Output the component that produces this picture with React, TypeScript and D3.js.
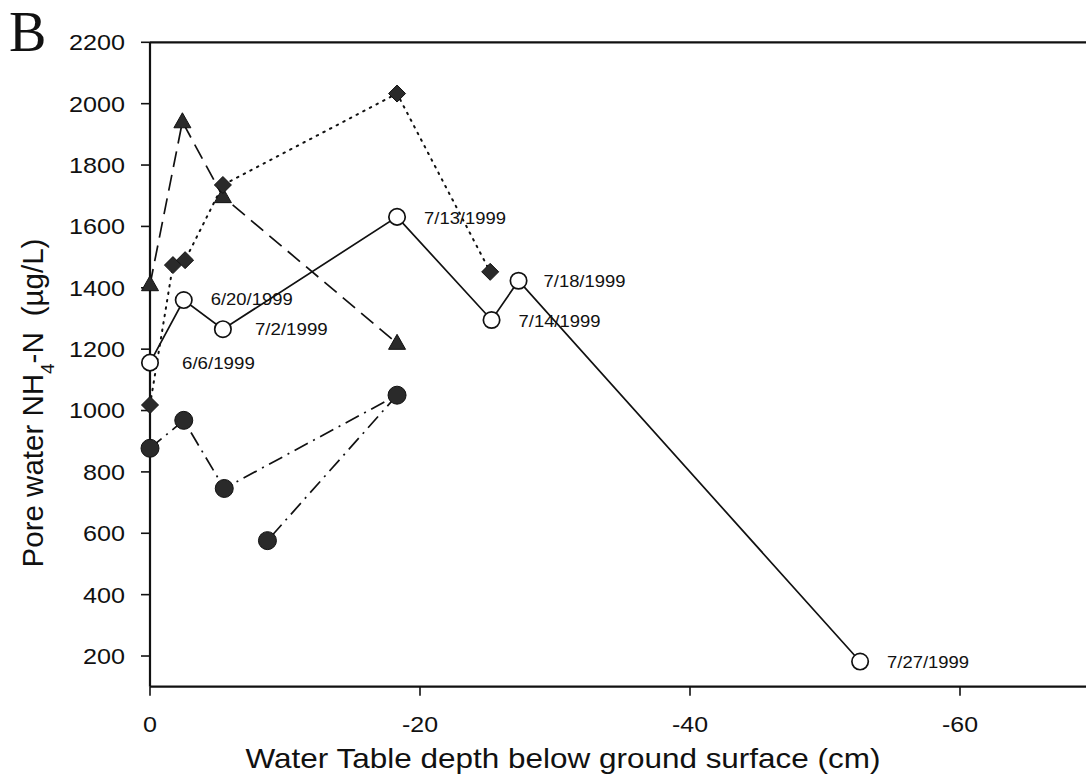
import React from "react";
import * as d3 from "d3";

// Sampling dates (open circles, solid line)
const openDepth = [0, -2.5, -5.4, -18.3, -25.3, -27.3, -52.6];
const openNH4 = [1156, 1360, 1265, 1631, 1295, 1423, 182];
const openDates = ["6/6/1999", "6/20/1999", "7/2/1999", "7/13/1999", "7/14/1999", "7/18/1999", "7/27/1999"];

// Diamonds, dotted line
const diamondDepth = [0, -1.7, -2.6, -5.4, -18.3, -25.2];
const diamondNH4 = [1018, 1474, 1490, 1735, 2033, 1452];

// Triangles, dashed line
const triDepth = [0, -2.4, -5.4, -18.3];
const triNH4 = [1410, 1941, 1697, 1219];

// Filled circles, dash-dot line
const dotDepth = [0, -2.5, -5.5, -18.3, -8.7];
const dotNH4 = [877, 968, 746, 1050, 576];

const xTicks = [0, -20, -40, -60];
const yTicks = [200, 400, 600, 800, 1000, 1200, 1400, 1600, 1800, 2000, 2200];

const W = 1086;
const H = 781;

export default function App() {
  const x = d3.scaleLinear().domain([0, -70]).range([150, 1095]);
  const y = d3.scaleLinear().domain([100, 2200]).range([686.7, 42.3]);

  const line = d3
    .line<[number, number]>()
    .x((d) => x(d[0]))
    .y((d) => y(d[1]));

  const zip = (a: number[], b: number[]) => a.map((v, i) => [v, b[i]] as [number, number]);

  const openPts = zip(openDepth, openNH4);
  const diaPts = zip(diamondDepth, diamondNH4);
  const triPts = zip(triDepth, triNH4);
  const dotPts = zip(dotDepth, dotNH4);

  const sans = "'Liberation Sans', Arial, sans-serif";
  const labelDx = [32, 27, 32, 27, 27, 25, 27];
  const labelDy = [6, 5, 6, 7, 7, 6, 6];

  const ink = "#111";
  const fillDark = "#2a2a2a";

  // glyph-width helper for the slightly wide numerals
  const numLen = (s: string) => s.replace(/[^0-9]/g, "").length * 14 + (s.startsWith("-") ? 8 : 0);

  return (
    <svg
      width={W}
      height={H}
      style={{ position: "absolute", left: 0, top: 0, background: "#fff" }}
      fontFamily={sans}
    >
      <rect x={0} y={0} width={W} height={H} fill="#fff" />

      {/* panel letter */}
      <text x={9} y={51} fontFamily="'Liberation Serif', 'Times New Roman', serif" fontSize={56} fill={ink}>
        B
      </text>

      {/* frame: top edge and axes */}
      <line x1={x(0)} x2={W} y1={y(2200)} y2={y(2200)} stroke={ink} strokeWidth={2.2} />
      <line x1={x(0)} x2={x(0)} y1={y(2200)} y2={y(100)} stroke={ink} strokeWidth={2.2} />
      <line x1={x(0)} x2={W} y1={y(100)} y2={y(100)} stroke={ink} strokeWidth={2.2} />

      {/* y ticks */}
      {yTicks.map((t) => (
        <g key={"y" + t}>
          <line x1={x(0) - 9} x2={x(0)} y1={y(t)} y2={y(t)} stroke={ink} strokeWidth={1.6} />
          <text
            x={x(0) - 25}
            y={y(t)}
            dy="0.36em"
            textAnchor="end"
            fontSize={22}
            fill={ink}
            textLength={numLen(String(t))}
            lengthAdjust="spacingAndGlyphs"
          >
            {t}
          </text>
        </g>
      ))}

      {/* x ticks */}
      {xTicks.map((t) => (
        <g key={"x" + t}>
          <line x1={x(t)} x2={x(t)} y1={y(100)} y2={y(100) + 9} stroke={ink} strokeWidth={1.6} />
          <text
            x={x(t)}
            y={732}
            textAnchor="middle"
            fontSize={22}
            fill={ink}
            textLength={numLen(String(t))}
            lengthAdjust="spacingAndGlyphs"
          >
            {String(t)}
          </text>
        </g>
      ))}

      {/* axis titles */}
      <text
        x={563}
        y={768}
        textAnchor="middle"
        fontSize={28}
        fill={ink}
        textLength={635}
        lengthAdjust="spacingAndGlyphs"
      >
        Water Table depth below ground surface (cm)
      </text>
      <text transform="translate(43,403) rotate(-90)" textAnchor="middle" fontSize={29.5} fill={ink}>
        Pore water NH
        <tspan baselineShift="sub" fontSize={19}>4</tspan>
        <tspan>-N</tspan>
        <tspan dx={16}>(µg/L)</tspan>
      </text>

      {/* series lines */}
      <path d={line(dotPts) || ""} fill="none" stroke={ink} strokeWidth={1.7} strokeDasharray="15 6 2 6" />
      <path d={line(triPts) || ""} fill="none" stroke={ink} strokeWidth={1.7} strokeDasharray="16 8" />
      <path d={line(diaPts) || ""} fill="none" stroke={ink} strokeWidth={2} strokeDasharray="1.5 6" strokeLinecap="round" />
      <path d={line(openPts) || ""} fill="none" stroke={ink} strokeWidth={1.7} />

      {/* filled circles */}
      {dotPts.map((p, i) => (
        <circle key={"fc" + i} cx={x(p[0])} cy={y(p[1])} r={9} fill={fillDark} stroke={ink} strokeWidth={1} />
      ))}

      {/* triangles */}
      {triPts.map((p, i) => {
        const cx = x(p[0]);
        const cy = y(p[1]);
        return (
          <path
            key={"tr" + i}
            d={`M${cx},${cy - 9}L${cx + 8.5},${cy + 6}L${cx - 8.5},${cy + 6}Z`}
            fill={fillDark}
            stroke={ink}
            strokeWidth={1}
          />
        );
      })}

      {/* diamonds */}
      {diaPts.map((p, i) => {
        const cx = x(p[0]);
        const cy = y(p[1]);
        return (
          <path
            key={"dm" + i}
            d={`M${cx},${cy - 8.5}L${cx + 8.5},${cy}L${cx},${cy + 8.5}L${cx - 8.5},${cy}Z`}
            fill={fillDark}
            stroke={ink}
            strokeWidth={1}
          />
        );
      })}

      {/* open circles with dates */}
      {openPts.map((p, i) => (
        <g key={"oc" + i}>
          <circle cx={x(p[0])} cy={y(p[1])} r={8.2} fill="#fff" stroke={ink} strokeWidth={1.7} />
          <text
            x={x(p[0]) + labelDx[i]}
            y={y(p[1]) + labelDy[i]}
            fontSize={17}
            fill={ink}
            textLength={openDates[i].length * 9.1}
            lengthAdjust="spacingAndGlyphs"
          >
            {openDates[i]}
          </text>
        </g>
      ))}
    </svg>
  );
}
